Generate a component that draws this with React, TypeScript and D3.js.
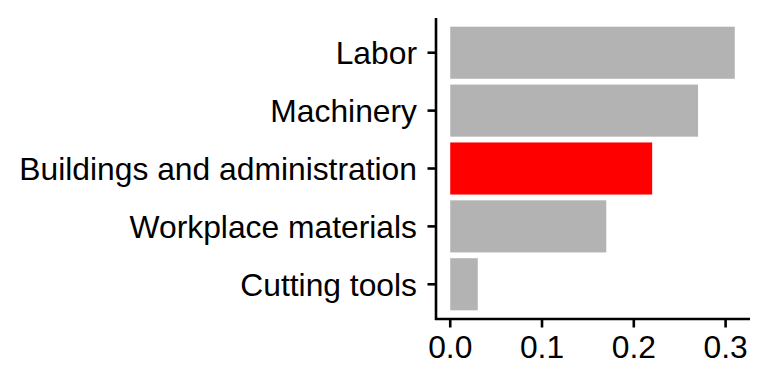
import React from "react";
import * as d3 from "d3";

const categories = ["Labor", "Machinery", "Buildings and administration", "Workplace materials", "Cutting tools"];
const values = [0.31, 0.27, 0.22, 0.17, 0.03];
const highlight = ["Buildings and administration"];
const xTicks = [0, 0.1, 0.2, 0.3];

export default function App() {
  const W = 768, H = 384;
  const left = 436, right = 749, top = 18, bottom = 319;
  const maxV = d3.max(values) as number;
  const pad = maxV * 0.05;
  const x = d3.scaleLinear().domain([-pad, maxV + pad]).range([left, right]);
  const y = d3.scaleBand<string>().domain(categories).range([top, bottom]).paddingInner(0.1).paddingOuter(0.15);
  const font = "'Liberation Sans', Arial, sans-serif";
  const fs = 31.8;
  return (
    <svg width={W} height={H} style={{ position: "absolute", left: 0, top: 0, background: "#fff" }}>
      {categories.map((c, i) => (
        <rect key={c} x={x(0)} y={y(c)} width={x(values[i]) - x(0)} height={y.bandwidth()}
          fill={highlight.includes(c) ? "#FF0000" : "#B3B3B3"} />
      ))}
      <line x1={left} x2={left} y1={top} y2={bottom + 1} stroke="#000" strokeWidth={2.6} />
      <line x1={left - 1} x2={right + 1} y1={bottom} y2={bottom} stroke="#000" strokeWidth={2.6} />
      {categories.map((c) => {
        const cy = (y(c) as number) + y.bandwidth() / 2;
        return (
          <g key={c}>
            <line x1={left - 8.5} x2={left} y1={cy} y2={cy} stroke="#000" strokeWidth={2.6} />
            <text x={417} y={cy} dy="0.36em" textAnchor="end" fontFamily={font} fontSize={fs} fill="#000">{c}</text>
          </g>
        );
      })}
      {xTicks.map((t) => (
        <g key={t}>
          <line x1={x(t)} x2={x(t)} y1={bottom} y2={bottom + 8.5} stroke="#000" strokeWidth={2.6} />
          <text x={x(t)} y={358} textAnchor="middle" fontFamily={font} fontSize={fs} fill="#000">{t.toFixed(1)}</text>
        </g>
      ))}
    </svg>
  );
}
